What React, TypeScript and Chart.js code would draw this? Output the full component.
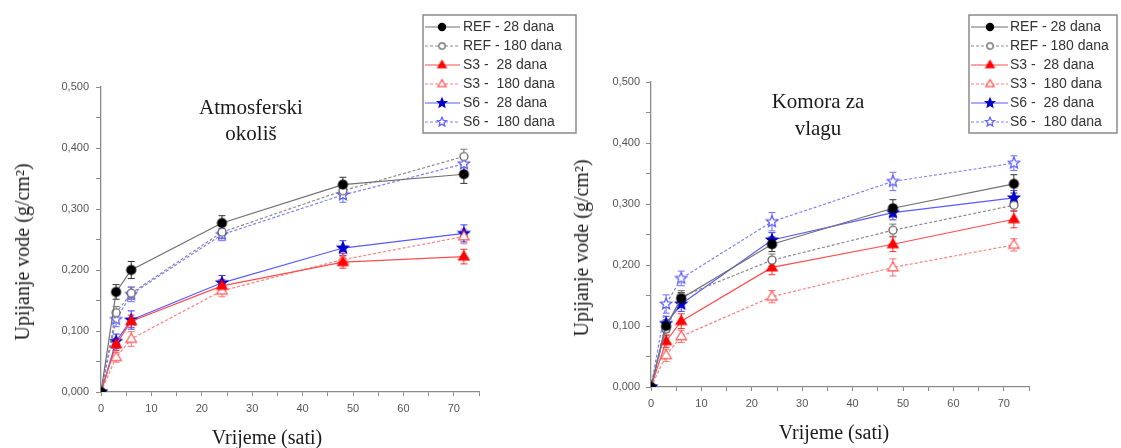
import React, { useEffect, useRef } from 'react';
import { Chart, registerables } from 'chart.js';

Chart.register(...registerables);

// ---------- data ----------
const HOURS = [0, 3, 6, 24, 48, 72];
const X_TICK_LABELS = [0, 10, 20, 30, 40, 50, 60, 70];
const Y_TICK_VALUES = [0, 0.1, 0.2, 0.3, 0.4, 0.5];
const Y_TICK_LABELS = ['0,000', '0,100', '0,200', '0,300', '0,400', '0,500'];
const SERIES_NAMES = ['REF - 28 dana', 'REF - 180 dana', 'S3 -  28 dana', 'S3 -  180 dana', 'S6 -  28 dana', 'S6 -  180 dana'];

// Atmosferski okoliš
const ATM_REF_28 = [0, 0.164, 0.200, 0.277, 0.340, 0.357];
const ATM_REF_180 = [0, 0.130, 0.162, 0.262, 0.330, 0.386];
const ATM_S3_28 = [0, 0.078, 0.116, 0.174, 0.213, 0.222];
const ATM_S3_180 = [0, 0.057, 0.087, 0.166, 0.217, 0.255];
const ATM_S6_28 = [0, 0.083, 0.118, 0.179, 0.236, 0.260];
const ATM_S6_180 = [0, 0.119, 0.160, 0.258, 0.323, 0.374];
const ATM_REF_28_ERR = [0, 0.012, 0.014, 0.012, 0.012, 0.015];
const ATM_REF_180_ERR = [0, 0.010, 0.010, 0.010, 0.012, 0.012];
const ATM_S3_28_ERR = [0, 0.010, 0.010, 0.010, 0.010, 0.012];
const ATM_S3_180_ERR = [0, 0.008, 0.012, 0.010, 0.010, 0.012];
const ATM_S6_28_ERR = [0, 0.012, 0.015, 0.012, 0.012, 0.014];
const ATM_S6_180_ERR = [0, 0.012, 0.012, 0.010, 0.012, 0.012];

// Komora za vlagu
const KOM_REF_28 = [0, 0.100, 0.145, 0.234, 0.293, 0.333];
const KOM_REF_180 = [0, 0.095, 0.148, 0.208, 0.257, 0.298];
const KOM_S3_28 = [0, 0.075, 0.108, 0.196, 0.234, 0.275];
const KOM_S3_180 = [0, 0.052, 0.083, 0.148, 0.196, 0.233];
const KOM_S6_28 = [0, 0.104, 0.136, 0.241, 0.286, 0.310];
const KOM_S6_180 = [0, 0.136, 0.178, 0.271, 0.337, 0.367];
const KOM_REF_28_ERR = [0, 0.010, 0.010, 0.012, 0.014, 0.015];
const KOM_REF_180_ERR = [0, 0.010, 0.010, 0.010, 0.010, 0.010];
const KOM_S3_28_ERR = [0, 0.010, 0.012, 0.012, 0.012, 0.014];
const KOM_S3_180_ERR = [0, 0.010, 0.010, 0.010, 0.014, 0.010];
const KOM_S6_28_ERR = [0, 0.012, 0.012, 0.012, 0.012, 0.012];
const KOM_S6_180_ERR = [0, 0.015, 0.012, 0.015, 0.015, 0.012];

// ---------- styles ----------
type Shape = 'circle' | 'triangle' | 'star';
const SERIES_STYLE: { line: string; dash: number[]; shape: Shape; r: number; fill: string; stroke: string; err: string }[] = [
  { line: '#707070', dash: [], shape: 'circle', r: 4.5, fill: '#000000', stroke: '#000000', err: '#333333' },
  { line: '#8c8c8c', dash: [3, 2], shape: 'circle', r: 4, fill: '#ffffff', stroke: '#555555', err: '#777777' },
  { line: '#ff4d4d', dash: [], shape: 'triangle', r: 5.5, fill: '#ff0000', stroke: '#ff0000', err: '#ff3030' },
  { line: '#ff8080', dash: [3, 2], shape: 'triangle', r: 5.5, fill: '#ffffff', stroke: '#ff5050', err: '#ff7070' },
  { line: '#5a5aff', dash: [], shape: 'star', r: 6, fill: '#0000cc', stroke: '#0000cc', err: '#3a3aff' },
  { line: '#8080ff', dash: [3, 2], shape: 'star', r: 6, fill: '#ffffff', stroke: '#5a5aff', err: '#7070ff' },
];
const AXIS_COLOR = '#8a8a8a';
const TICK_FONT = { family: '"Liberation Sans", Arial, sans-serif', size: 11 };
const SERIF = '"Liberation Serif", "Times New Roman", serif';

function markerPath(ctx: CanvasRenderingContext2D, shape: Shape, x: number, y: number, r: number) {
  ctx.beginPath();
  if (shape === 'circle') {
    ctx.arc(x, y, r, 0, Math.PI * 2);
  } else if (shape === 'triangle') {
    ctx.moveTo(x, y - r);
    ctx.lineTo(x + r * 0.95, y + r * 0.6);
    ctx.lineTo(x - r * 0.95, y + r * 0.6);
    ctx.closePath();
  } else {
    const inner = r * 0.45;
    for (let i = 0; i < 10; i++) {
      const rad = i % 2 === 0 ? r : inner;
      const a = -Math.PI / 2 + (i * Math.PI) / 5;
      const px = x + rad * Math.cos(a);
      const py = y + rad * Math.sin(a);
      if (i === 0) ctx.moveTo(px, py);
      else ctx.lineTo(px, py);
    }
    ctx.closePath();
  }
}

function makeMarker(idx: number, scale = 1): HTMLCanvasElement {
  const s = SERIES_STYLE[idx];
  const r = s.r * scale;
  const size = Math.ceil(2 * r + 4);
  const c = document.createElement('canvas');
  c.width = size;
  c.height = size;
  const ctx = c.getContext('2d')!;
  markerPath(ctx, s.shape, size / 2, size / 2, r);
  ctx.fillStyle = s.fill;
  ctx.fill();
  ctx.lineWidth = 1.2;
  ctx.strokeStyle = s.stroke;
  ctx.stroke();
  return c;
}

type PanelCfg = {
  left: number;
  width: number;
  values: number[][];
  errors: number[][];
  yAxisWidth: number;
  xAxisHeight: number;
  padRight: number;
  padTop: number;
  yTickPad: number;
  legend: { x: number; y: number; w: number; h: number; lineX0: number; lineX1: number; markX: number; textX: number; row0: number; rowH: number };
};

function buildChart(canvas: HTMLCanvasElement, cfg: PanelCfg) {
  const markers = SERIES_STYLE.map((_, i) => makeMarker(i));
  const legendMarkers = SERIES_STYLE.map((_, i) => makeMarker(i, 0.8));
  const datasets = cfg.values.map((vals, i) => ({
    label: SERIES_NAMES[i],
    data: HOURS.map((h, j) => ({ x: h, y: vals[j] })),
    errors: cfg.errors[i],
    borderColor: SERIES_STYLE[i].line,
    borderWidth: 1.2,
    borderDash: SERIES_STYLE[i].dash,
    backgroundColor: SERIES_STYLE[i].fill,
    pointStyle: markers[i],
    pointRadius: 5,
    tension: 0,
    fill: false,
  }));

  const errorBars = {
    id: 'errorBars',
    beforeDatasetsDraw(chart: any) {
      const ctx = chart.ctx;
      const ys = chart.scales.y;
      chart.data.datasets.forEach((ds: any, i: number) => {
        const meta = chart.getDatasetMeta(i);
        ctx.save();
        ctx.strokeStyle = SERIES_STYLE[i].err;
        ctx.lineWidth = 1;
        meta.data.forEach((pt: any, j: number) => {
          const e = ds.errors[j];
          if (!e) return;
          const v = ds.data[j].y;
          const top = ys.getPixelForValue(v + e);
          const bot = ys.getPixelForValue(v - e);
          ctx.beginPath();
          ctx.moveTo(pt.x, top);
          ctx.lineTo(pt.x, bot);
          ctx.moveTo(pt.x - 3.5, top);
          ctx.lineTo(pt.x + 3.5, top);
          ctx.moveTo(pt.x - 3.5, bot);
          ctx.lineTo(pt.x + 3.5, bot);
          ctx.stroke();
        });
        ctx.restore();
      });
    },
  };

  const L = cfg.legend;
  const boxLegend = {
    id: 'boxLegend',
    afterDraw(chart: any) {
      const ctx = chart.ctx;
      ctx.save();
      ctx.fillStyle = '#ffffff';
      ctx.fillRect(L.x, L.y, L.w, L.h);
      ctx.strokeStyle = '#8a8a8a';
      ctx.lineWidth = 1.5;
      ctx.strokeRect(L.x, L.y, L.w, L.h);
      chart.data.datasets.forEach((ds: any, i: number) => {
        const y = L.row0 + i * L.rowH;
        ctx.strokeStyle = SERIES_STYLE[i].line;
        ctx.lineWidth = 1.2;
        ctx.setLineDash(SERIES_STYLE[i].dash);
        ctx.beginPath();
        ctx.moveTo(L.lineX0, y);
        ctx.lineTo(L.lineX1, y);
        ctx.stroke();
        ctx.setLineDash([]);
        const m = legendMarkers[i];
        ctx.drawImage(m, L.markX - m.width / 2, y - m.height / 2);
        ctx.fillStyle = '#333333';
        ctx.font = '14px "Liberation Sans", Arial, sans-serif';
        ctx.textBaseline = 'middle';
        ctx.textAlign = 'left';
        ctx.fillText(ds.label, L.textX, y + 0.5);
      });
      ctx.restore();
    },
  };

  return new Chart(canvas, {
    type: 'line',
    data: { datasets: datasets as any },
    plugins: [errorBars, boxLegend],
    options: {
      animation: false,
      responsive: false,
      maintainAspectRatio: false,
      layout: { padding: { left: 0, right: cfg.padRight, top: cfg.padTop, bottom: 0 } },
      plugins: { legend: { display: false }, tooltip: { enabled: false }, title: { display: false } },
      scales: {
        x: {
          type: 'linear',
          min: 0,
          max: 75,
          afterFit: (s: any) => { s.height = cfg.xAxisHeight; },
          grid: { drawOnChartArea: false, drawTicks: true, tickLength: 4, color: AXIS_COLOR, tickWidth: 1 },
          border: { color: AXIS_COLOR, width: 1.3 },
          ticks: {
            stepSize: 5,
            autoSkip: false,
            maxRotation: 0,
            padding: 6,
            color: '#555555',
            font: TICK_FONT,
            callback: (v: any) => (X_TICK_LABELS.includes(Number(v)) ? String(v) : ''),
          },
        },
        y: {
          type: 'linear',
          min: 0,
          max: 0.5,
          afterFit: (s: any) => { s.width = cfg.yAxisWidth; },
          grid: { drawOnChartArea: false, drawTicks: true, tickLength: 5, color: AXIS_COLOR, tickWidth: 1 },
          border: { color: AXIS_COLOR, width: 1.3 },
          ticks: {
            stepSize: 0.05,
            autoSkip: false,
            padding: cfg.yTickPad,
            color: '#555555',
            font: TICK_FONT,
            callback: (v: any) => {
              const k = Y_TICK_VALUES.findIndex((t) => Math.abs(t - Number(v)) < 1e-6);
              return k >= 0 ? Y_TICK_LABELS[k] : '';
            },
          },
        },
      },
    } as any,
  });
}

function Panel({ cfg }: { cfg: PanelCfg }) {
  const ref = useRef<HTMLCanvasElement>(null);
  useEffect(() => {
    const chart = buildChart(ref.current!, cfg);
    return () => chart.destroy();
  }, []);
  return (
    <canvas
      ref={ref}
      width={cfg.width}
      height={448}
      style={{ position: 'absolute', left: cfg.left, top: 0, width: cfg.width, height: 448 }}
    />
  );
}

const LEFT_CFG: PanelCfg = {
  left: 0,
  width: 580,
  values: [ATM_REF_28, ATM_REF_180, ATM_S3_28, ATM_S3_180, ATM_S6_28, ATM_S6_180],
  errors: [ATM_REF_28_ERR, ATM_REF_180_ERR, ATM_S3_28_ERR, ATM_S3_180_ERR, ATM_S6_28_ERR, ATM_S6_180_ERR],
  yAxisWidth: 101,
  xAxisHeight: 56,
  padRight: 101,
  padTop: 87,
  yTickPad: 7,
  legend: { x: 423, y: 15, w: 153, h: 118, lineX0: 425, lineX1: 460, markX: 442, textX: 463, row0: 27, rowH: 19 },
};

const RIGHT_CFG: PanelCfg = {
  left: 560,
  width: 561,
  values: [KOM_REF_28, KOM_REF_180, KOM_S3_28, KOM_S3_180, KOM_S6_28, KOM_S6_180],
  errors: [KOM_REF_28_ERR, KOM_REF_180_ERR, KOM_S3_28_ERR, KOM_S3_180_ERR, KOM_S6_28_ERR, KOM_S6_180_ERR],
  yAxisWidth: 91,
  xAxisHeight: 61,
  padRight: 92,
  padTop: 82,
  yTickPad: 6,
  legend: { x: 409, y: 15, w: 148, h: 118, lineX0: 411, lineX1: 448, markX: 430, textX: 450, row0: 27, rowH: 19 },
};

const textStyle = (x: number, y: number, size: number, rotate = false): React.CSSProperties => ({
  position: 'absolute',
  left: x,
  top: y,
  transform: `translate(-50%, -50%)${rotate ? ' rotate(-90deg)' : ''}`,
  whiteSpace: 'nowrap',
  fontFamily: SERIF,
  fontSize: size,
  color: '#1a1a1a',
  lineHeight: 1,
});

export default function App() {
  return (
    <div style={{ position: 'absolute', left: 0, top: 0, width: 1121, height: 448, background: '#ffffff', overflow: 'hidden' }}>
      <Panel cfg={LEFT_CFG} />
      <Panel cfg={RIGHT_CFG} />
      <div style={textStyle(251, 107, 21)}>Atmosferski</div>
      <div style={textStyle(251, 133, 21)}>okoliš</div>
      <div style={textStyle(818, 101, 21)}>Komora za</div>
      <div style={textStyle(818, 128, 21)}>vlagu</div>
      <div style={textStyle(267, 437, 20)}>Vrijeme (sati)</div>
      <div style={textStyle(834, 432, 20)}>Vrijeme (sati)</div>
      <div style={textStyle(22, 252, 20, true)}>Upijanje vode (g/cm²)</div>
      <div style={textStyle(581, 248, 20, true)}>Upijanje vode (g/cm²)</div>
    </div>
  );
}
